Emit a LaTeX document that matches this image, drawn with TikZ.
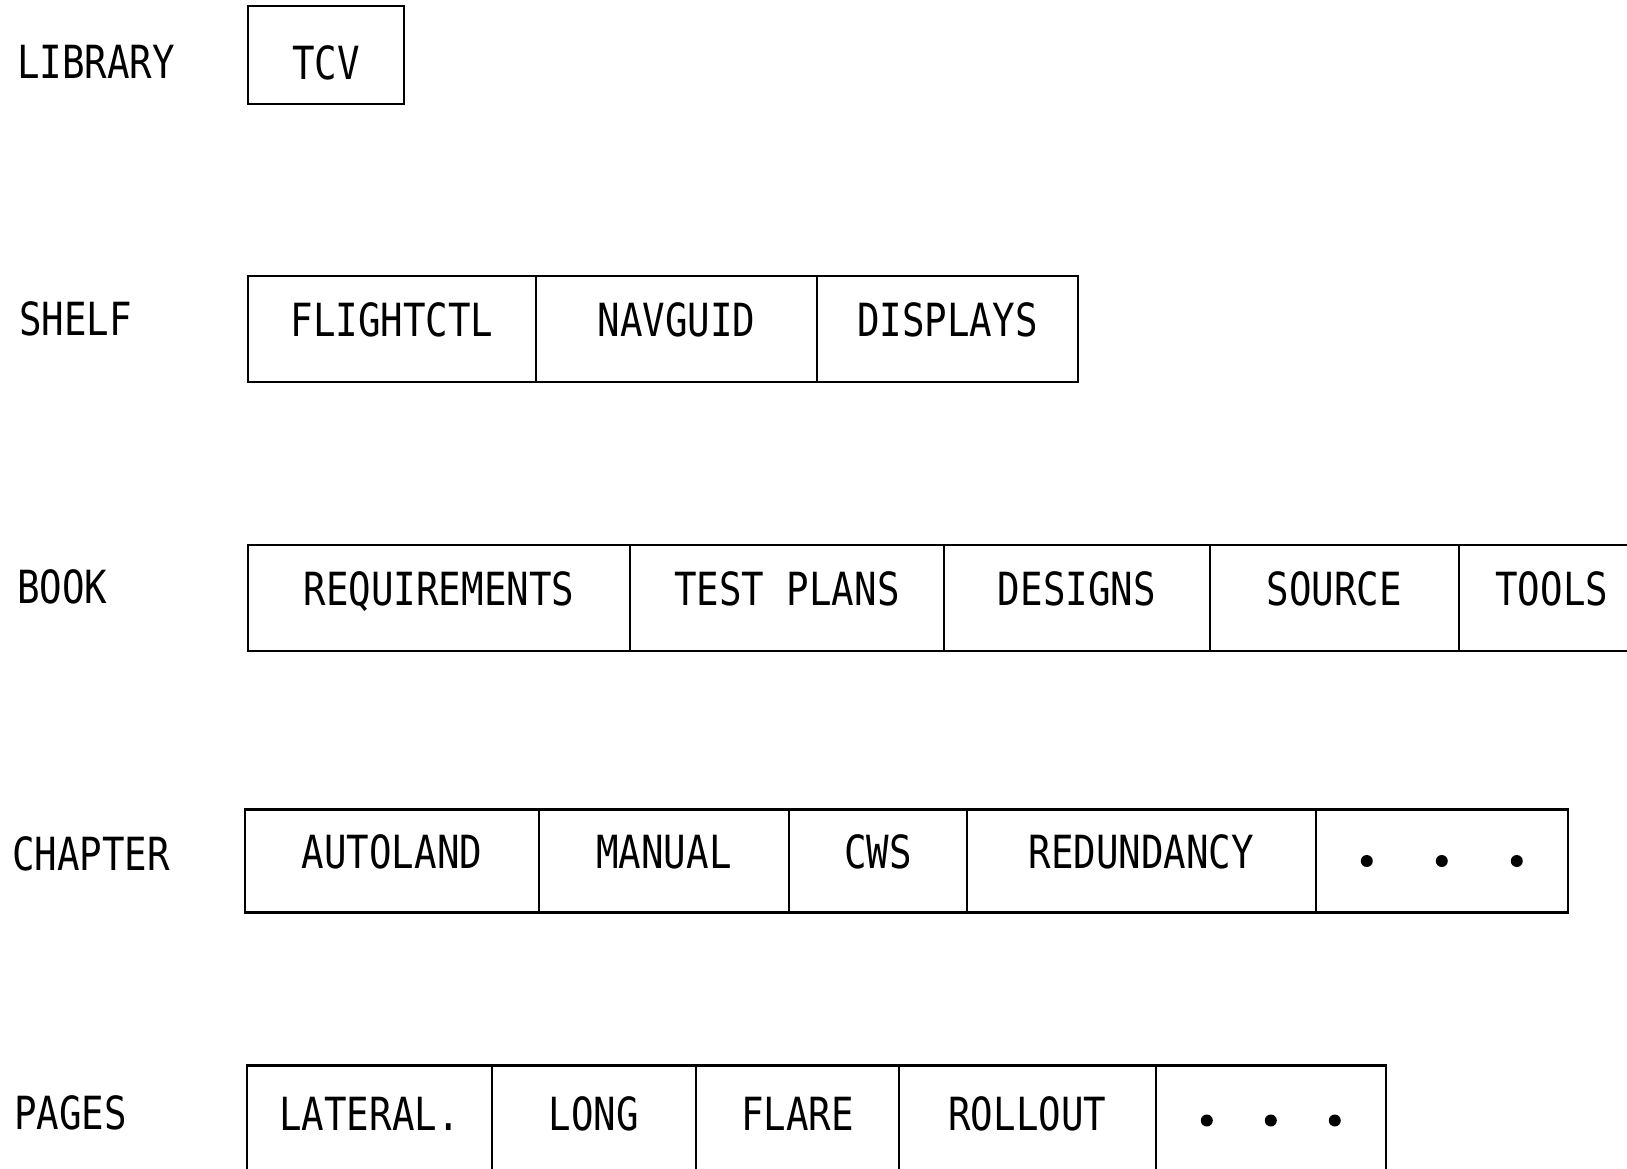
\documentclass[tikz,border=0pt]{standalone}
\usepackage{fontspec}
\newfontfamily\typefont[FakeStretch=0.82]{DejaVu Sans Mono}
\usetikzlibrary{positioning}

\begin{document}
\begin{tikzpicture}[x=0.02cm, y=-0.02cm, line width=1.3pt,
    cell/.style={draw, outer sep=0pt, inner sep=0pt, text height=0.67cm, text depth=0.36cm, minimum height=2.12cm, font=\typefont\fontsize{26}{30}\selectfont},
    level/.style={anchor=base west, inner sep=0pt, font=\typefont\fontsize{26}{30}\selectfont}]
        \useasboundingbox (0,0) rectangle (1627,1169);

        % Levels
        \node[level] (library) at (16,79) {LIBRARY};
        \node[level] (shelf) at (18,336) {SHELF};
        \node[level] (book) at (16,603) {BOOK};
        \node[level] (chapter) at (11,870) {CHAPTER};
        \node[level] (pages) at (13,1129) {PAGES};

        % Library
        \node[cell, anchor=west, minimum width=3.12cm, minimum height=1.96cm, text height=1.0cm, text depth=0pt] (tcv) at (248,55) {TCV};

        % Shelf
        \node[cell, anchor=west, minimum width=5.76cm] (flightctl) at (248,329) {FLIGHTCTL};
        \node[cell, minimum width=5.62cm, right=0pt of flightctl] (navguid) {NAVGUID};
        \node[cell, minimum width=5.22cm, right=0pt of navguid] (displays) {DISPLAYS};

        % Book
        \node[cell, anchor=west, minimum width=7.64cm] (requirements) at (248,598) {REQUIREMENTS};
        \node[cell, minimum width=6.28cm, right=0pt of requirements] (testplans) {TEST PLANS};
        \node[cell, minimum width=5.32cm, right=0pt of testplans] (designs) {DESIGNS};
        \node[cell, minimum width=4.98cm, right=0pt of designs] (source) {SOURCE};
        \node[cell, minimum width=3.72cm, right=0pt of source] (tools) {TOOLS};

        % Chapter
        \node[cell, anchor=west, minimum width=5.88cm, minimum height=2.06cm] (autoland) at (245,861) {AUTOLAND};
        \node[cell, minimum width=5.0cm, minimum height=2.06cm, right=0pt of autoland] (manual) {MANUAL};
        \node[cell, minimum width=3.56cm, minimum height=2.06cm, right=0pt of manual] (cws) {CWS};
        \node[cell, minimum width=6.98cm, minimum height=2.06cm, right=0pt of cws] (redundancy) {REDUNDANCY};
        \node[cell, minimum width=5.04cm, minimum height=2.06cm, right=0pt of redundancy] (chapdots) {};
        \foreach \k in {-1,0,1}
            \fill ([xshift=\k*1.5cm]chapdots.center) circle (0.12cm);

        % Pages
        \node[cell, anchor=west, minimum width=4.9cm, minimum height=2.3cm] (lateral) at (247,1123) {LATERAL.};
        \node[cell, minimum width=4.08cm, minimum height=2.3cm, right=0pt of lateral] (long) {LONG};
        \node[cell, minimum width=4.06cm, minimum height=2.3cm, right=0pt of long] (flare) {FLARE};
        \node[cell, minimum width=5.14cm, minimum height=2.3cm, right=0pt of flare] (rollout) {ROLLOUT};
        \node[cell, minimum width=4.6cm, minimum height=2.3cm, right=0pt of rollout] (pagedots) {};
        \foreach \k in {-1,0,1}
            \fill ([xshift=\k*1.28cm, yshift=0.05cm]pagedots.center) circle (0.12cm);

    \end{tikzpicture}
\end{document}
